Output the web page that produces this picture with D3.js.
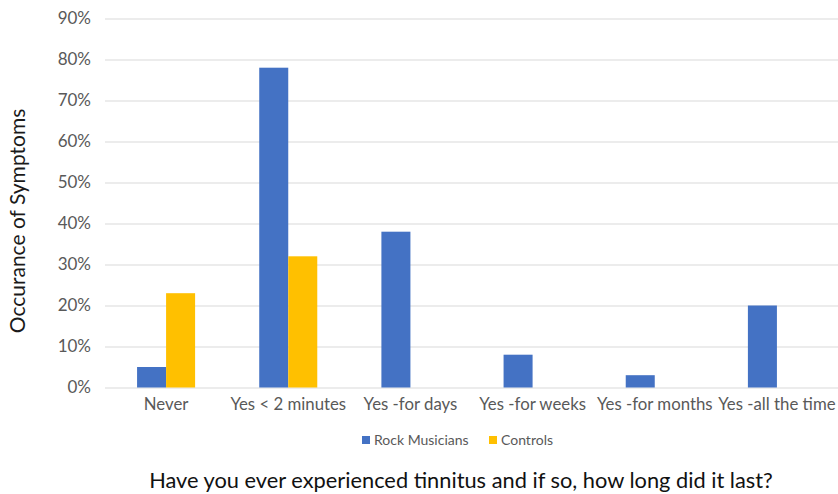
<!DOCTYPE html>
<html>
<head>
<meta charset="utf-8">
<script src="https://cdn.jsdelivr.net/npm/d3@7"></script>
<style>
  body { margin: 0; background: #fff; }
  text { font-family: Lato, "Open Sans", sans-serif; }
</style>
</head>
<body>
<script>
const categories = ["Never", "Yes < 2 minutes", "Yes -for days", "Yes -for weeks", "Yes -for months", "Yes -all the time"];
const seriesNames = ["Rock Musicians", "Controls"];
const rockMusicians = [5, 78, 38, 8, 3, 20];
const controls = [23, 32, 0, 0, 0, 0];
const yTicks = [0, 10, 20, 30, 40, 50, 60, 70, 80, 90];
const colors = ["#4472c4", "#ffc000"];

const w = 838, h = 494;
const plotLeft = 105, plotRight = 838, plotTop = 18.5, plotBottom = 387.5;

const svg = d3.select("body").append("svg")
  .attr("width", w)
  .attr("height", h);

const y = d3.scaleLinear().domain([0, 90]).range([plotBottom, plotTop]);

const x0 = d3.scaleBand()
  .domain(categories)
  .range([plotLeft, plotRight])
  .paddingInner(0.525)
  .paddingOuter(0.2625);

const x1 = d3.scaleBand()
  .domain(seriesNames)
  .range([0, x0.bandwidth()]);

// gridlines
svg.append("g")
  .attr("transform", `translate(${plotLeft},0)`)
  .call(d3.axisLeft(y).tickValues(yTicks).tickSize(-(plotRight - plotLeft)).tickFormat(d => d + "%"))
  .call(g => g.select(".domain").remove())
  .call(g => g.selectAll("line").attr("stroke", "#d9d9d9").attr("stroke-width", 1))
  .call(g => g.selectAll("text").attr("x", -14).attr("fill", "#595959").style("font-size", "17px"));

const rows = categories.map((c, i) => ({ cat: c, vals: [rockMusicians[i], controls[i]] }));

svg.append("g").selectAll("g")
  .data(rows)
  .enter()
  .append("g")
  .attr("transform", d => `translate(${x0(d.cat)},0)`)
  .selectAll("rect")
  .data(d => d.vals.map((v, j) => ({ name: seriesNames[j], v, j })))
  .enter()
  .append("rect")
  .attr("x", d => x1(d.name))
  .attr("y", d => y(d.v))
  .attr("width", x1.bandwidth())
  .attr("height", d => plotBottom - y(d.v))
  .attr("fill", d => colors[d.j]);

// category axis
svg.append("g")
  .attr("transform", `translate(0,${plotBottom})`)
  .call(d3.axisBottom(x0).tickSize(0).tickPadding(11))
  .call(g => g.select(".domain").remove())
  .call(g => g.selectAll("text").attr("fill", "#595959").style("font-size", "16.8px"));

// legend
const legend = svg.append("g").attr("transform", "translate(362,440)");
const legendX = [0, 127];
seriesNames.forEach((n, i) => {
  const g = legend.append("g").attr("transform", `translate(${legendX[i]},0)`);
  g.append("rect").attr("x", 0).attr("y", -4).attr("width", 8).attr("height", 8).attr("fill", colors[i]);
  g.append("text").attr("x", 12).attr("y", 5).attr("fill", "#595959").style("font-size", "14px").text(n);
});

// axis titles
svg.append("text")
  .attr("transform", "translate(25,221) rotate(-90)")
  .attr("text-anchor", "middle")
  .attr("fill", "#1a1a1a")
  .style("font-size", "21px")
  .text("Occurance of Symptoms");

svg.append("text")
  .attr("x", 461)
  .attr("y", 488)
  .attr("text-anchor", "middle")
  .attr("fill", "#111")
  .style("font-size", "21.8px")
  .text("Have you ever experienced tinnitus and if so, how long did it last?");
</script>
</body>
</html>
